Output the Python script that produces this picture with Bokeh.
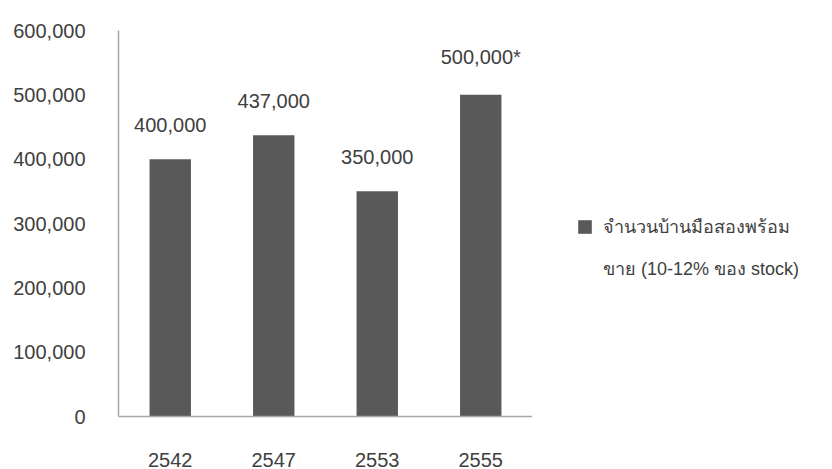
from bokeh.plotting import figure
from bokeh.layouts import row
from bokeh.models import (ColumnDataSource, Legend, LegendItem, LabelSet,
                          FactorRange, Range1d, FixedTicker, NumeralTickFormatter)
from bokeh.core.properties import value
from bokeh.embed import file_html
from bokeh.resources import INLINE

years = ["2542", "2547", "2553", "2555"]
units = [400000, 437000, 350000, 500000]
value_labels = ["400,000", "437,000", "350,000", "500,000*"]
y_ticks = [0, 100000, 200000, 300000, 400000, 500000, 600000]
legend_line1 = "จำนวนบ้านมือสองพร้อม"
legend_line2 = "ขาย (10-12% ของ stock)"

FONT = "Liberation Sans"
TXT = "#404040"
BAR = "#595959"

src = ColumnDataSource(dict(year=years, units=units, lab=value_labels))

p = figure(width=532, height=469, x_range=FactorRange(*years), y_range=Range1d(0, 600000),
           output_backend="svg", toolbar_location=None,
           min_border_left=118, min_border_right=0, min_border_top=30, min_border_bottom=51)
p.outline_line_color = None
p.xgrid.grid_line_color = None
p.ygrid.grid_line_color = None

r = p.vbar(x="year", top="units", width=0.4, source=src, fill_color=BAR, line_color=None)

p.yaxis.ticker = FixedTicker(ticks=y_ticks)
p.yaxis.formatter = NumeralTickFormatter(format="0,0")
for ax in (p.xaxis[0], p.yaxis[0]):
    ax.axis_line_color = "#a6a6a6"
    ax.axis_line_width = 1.5
    ax.major_tick_line_color = None
    ax.minor_tick_line_color = None
    ax.major_tick_out = 0
    ax.major_tick_in = 0
    ax.major_label_text_font = FONT
    ax.major_label_text_font_size = "20px"
    ax.major_label_text_color = TXT
p.yaxis.major_label_standoff = 33
p.xaxis.major_label_standoff = 36

labels = LabelSet(x="year", y="units", text="lab", source=src, text_align="center",
                  text_baseline="bottom", y_offset=27, text_font=value(FONT),
                  text_font_size="20px", text_color=TXT)
p.add_layout(labels)

# legend panel (same bar style as the chart's bars)
p2 = figure(width=300, height=469, x_range=Range1d(0, 300), y_range=Range1d(0, 469),
            output_backend="svg", toolbar_location=None,
            min_border_left=0, min_border_right=0, min_border_top=0, min_border_bottom=0)
p2.axis.visible = False
p2.grid.visible = False
p2.outline_line_color = None
lg_bar = p2.vbar(x=[-1000], top=[-1000], width=1, fill_color=BAR, line_color=None)
lg_blank = p2.vbar(x=[-1000], top=[-1000], width=1, fill_alpha=0, line_alpha=0)

legend = Legend(items=[LegendItem(label=legend_line1, renderers=[lg_bar]),
                       LegendItem(label=legend_line2, renderers=[lg_blank])],
                location=(44, 133), padding=0, margin=0, border_line_color=None,
                background_fill_alpha=0, glyph_width=17, glyph_height=17,
                label_height=21, spacing=13,
                label_standoff=10, label_text_font=FONT, label_text_font_size="18px",
                label_text_color=TXT)
p2.add_layout(legend)

layout = row(p, p2)
open("out.html", "w").write(file_html(layout, INLINE))
